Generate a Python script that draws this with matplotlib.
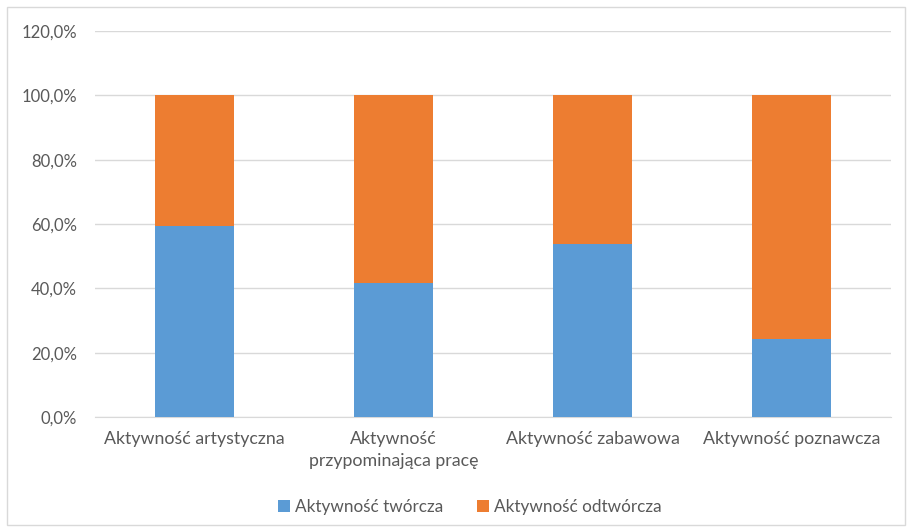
import matplotlib
matplotlib.use("Agg")
import matplotlib.pyplot as plt
from matplotlib.patches import Rectangle
from matplotlib.ticker import FuncFormatter

categories = ["Aktywność artystyczna", "Aktywność\nprzypominająca pracę",
              "Aktywność zabawowa", "Aktywność poznawcza"]
tworcza = [59.5, 41.7, 53.9, 24.3]
odtworcza = [100 - v for v in tworcza]
series_names = ["Aktywność twórcza", "Aktywność odtwórcza"]
yticks = [0, 20, 40, 60, 80, 100, 120]

plt.rcParams['font.family'] = ['Lato', 'DejaVu Sans']
text_color = "#595959"

fig = plt.figure(figsize=(9.08, 5.32), dpi=100)
ax = fig.add_axes([95/908, 1 - 417/532, 796/908, (417 - 31)/532])

x = list(range(len(categories)))
ax.bar(x, tworcza, width=0.4, color="#5B9BD5", label=series_names[0], zorder=3)
ax.bar(x, odtworcza, width=0.4, bottom=tworcza, color="#ED7D31", label=series_names[1], zorder=3)

ax.set_xlim(-0.5, len(categories) - 0.5)
ax.set_ylim(0, 120)
ax.set_yticks(yticks)
ax.yaxis.set_major_formatter(FuncFormatter(lambda v, p: f"{v:.1f}%".replace(".", ",")))
ax.grid(axis="y", color="#d9d9d9", linewidth=1, zorder=0)
ax.set_xticks(x)
ax.set_xticklabels(categories, fontsize=12.8, color=text_color, linespacing=1.45)
ax.tick_params(axis="both", length=0, colors=text_color)
ax.tick_params(axis="y", pad=13, labelsize=12)
ax.tick_params(axis="x", pad=10)
for s in ["top", "right", "left"]:
    ax.spines[s].set_visible(False)
ax.spines["bottom"].set_color("#d9d9d9")

leg = fig.legend(loc="center", bbox_to_anchor=(470/908, 1 - 507/532), ncol=2,
                 frameon=False, fontsize=12.3, handlelength=0.7, handleheight=0.7,
                 handletextpad=0.3, columnspacing=2.0)
for t in leg.get_texts():
    t.set_color(text_color)

fig.patches.append(Rectangle((7/908, 7/532), 898/908, 518/532, transform=fig.transFigure,
                             fill=False, edgecolor="#d9d9d9", linewidth=1))

fig.savefig("out.png", dpi=100)
